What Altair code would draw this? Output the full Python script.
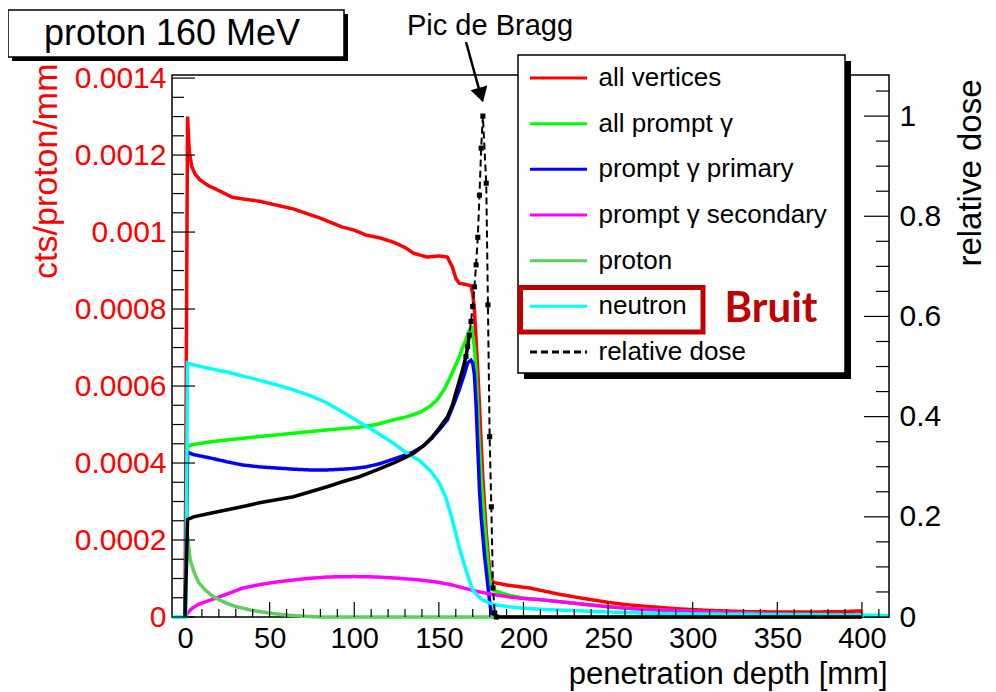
import altair as alt
import pandas as pd

FONT = "Liberation Sans"

# ---------------- data ----------------
series_names = ["all vertices", "all prompt γ", "prompt γ primary",
                "prompt γ secondary", "proton", "neutron", "relative dose"]
series_colors = ["#ff0000", "#00ff00", "#0000ff", "#ff00ff", "#5ccf5c", "#00ffff", "#000000"]
series_dashes = [[1, 0], [1, 0], [1, 0], [1, 0], [1, 0], [1, 0], [7, 4]]

depth_red = [0, 1.5, 2.5, 4, 6, 9, 14, 19, 28, 36, 44, 54, 64, 72, 80, 93, 100, 107, 115, 123,
             130, 135, 143, 150, 155, 158, 160, 162, 166, 169, 170, 171, 172, 173, 174, 175, 176,
             177, 178, 179, 180, 181, 182, 190, 204, 220, 233, 250, 263, 280, 292, 310, 331, 350,
             371, 390, 399, 400.5]
val_red = [0, 0.0013, 0.00121, 0.00117, 0.00115, 0.001135, 0.00112, 0.00111, 0.00109, 0.001085,
           0.00108, 0.00107, 0.00106, 0.001048, 0.001036, 0.001013, 0.001005, 0.000992, 0.000985,
           0.000974, 0.00096, 0.000945, 0.000935, 0.000938, 0.000935, 0.000909, 0.00088, 0.000867,
           0.000864, 0.00086, 0.00084, 0.0008, 0.00072, 0.00064, 0.00055, 0.00045, 0.00036,
           0.00029, 0.00022, 0.00017, 0.00012, 0.0001, 0.00009, 0.000083, 0.000075, 0.00006,
           0.00005, 0.000038, 0.000031, 0.000025, 0.000021, 0.000017, 0.000014, 0.000013,
           0.000013, 0.000014, 0.000016, 0]

depth_green = [0, 1.5, 5, 15, 25, 40, 54, 70, 84, 103, 113, 123, 131, 139, 145, 149, 153, 156, 159,
               162, 164, 166, 168, 169.5, 171, 172, 173, 174, 175, 176, 177, 178, 179, 180, 181, 182,
               190, 200, 210, 223, 240, 252, 270, 292, 310, 331, 350, 370, 390, 400]
val_green = [0, 0.000444, 0.000448, 0.000455, 0.00046, 0.000467, 0.000473, 0.00048, 0.000486,
             0.000493, 0.0005, 0.000512, 0.00052, 0.000532, 0.000548, 0.000564, 0.00059, 0.000616,
             0.000645, 0.000675, 0.0007, 0.00072, 0.000745, 0.00075, 0.0007, 0.00064, 0.00054,
             0.00044, 0.00036, 0.0003, 0.00024, 0.00019, 0.00014, 0.0001, 0.00008, 0.00007,
             0.000058, 0.000049, 0.000045, 0.000039, 0.000031, 0.000026, 0.00002, 0.000016,
             0.000013, 0.00001, 0.000008, 0.000007, 0.000006, 0.000005]

depth_blue = [0, 1.5, 5, 15, 25, 34, 44, 54, 64, 74, 84, 93, 100, 107, 115, 123, 129, 135, 141, 146,
              150, 155, 159, 162, 165, 167, 169, 170, 171, 172, 173, 174, 175, 176, 177, 178, 179,
              180, 181, 182, 183]
val_blue = [0, 0.000428, 0.000422, 0.000413, 0.000403, 0.000395, 0.00039, 0.000387, 0.000384,
            0.000382, 0.000382, 0.000384, 0.000386, 0.00039, 0.000398, 0.00041, 0.000419, 0.000429,
            0.000445, 0.000465, 0.000485, 0.000512, 0.000555, 0.00059, 0.00063, 0.00066, 0.000667,
            0.00066, 0.00063, 0.00055, 0.00044, 0.00033, 0.00026, 0.00021, 0.00016, 0.00012,
            0.00008, 0.00004, 0.00001, 0, 0]

depth_magenta = [0, 1.5, 4, 8, 15, 25, 34, 44, 54, 70, 84, 100, 113, 125, 139, 150, 158, 165, 172,
                 180, 192, 200, 210, 223, 240, 252, 270, 292, 310, 331, 350, 370, 390, 400]
val_magenta = [0, 0.00001, 0.000022, 0.000033, 0.000044, 0.00006, 0.000075, 0.000084, 0.000091,
               0.000099, 0.000104, 0.000105, 0.000104, 0.000101, 0.000096, 0.00009, 0.000083,
               0.000075, 0.000067, 0.00006, 0.000052, 0.000048, 0.000045, 0.000039, 0.000031,
               0.000026, 0.00002, 0.000016, 0.000013, 0.00001, 0.000008, 0.000007, 0.000006,
               0.000005]

depth_proton = [0, 1.5, 3, 5, 8, 12, 16, 20, 25, 30, 40, 50, 60, 70, 80, 400]
val_proton = [0, 0.00021, 0.00015, 0.00012, 0.00009, 0.00007, 0.000055, 0.000045, 0.000035,
              0.000027, 0.000017, 0.00001, 0.000005, 0.000002, 0, 0]

depth_neutron = [-7.5, 0.5, 1.5, 5, 15, 25, 35, 44, 54, 64, 74, 84, 93, 103, 113, 123, 131, 139,
                 145, 150, 154, 158, 162, 166, 170, 173, 176, 180, 184, 196, 210, 233, 250, 272,
                 300, 331, 360, 400, 415.5]
val_neutron = [0, 0, 0.00066, 0.000655, 0.000645, 0.000636, 0.000625, 0.000615, 0.000603, 0.00059,
               0.000575, 0.000556, 0.000533, 0.000506, 0.00048, 0.000452, 0.000426, 0.000405,
               0.00038, 0.00035, 0.000312, 0.000252, 0.000182, 0.000122, 0.00007, 0.000055,
               0.000044, 0.000036, 0.000031, 0.000024, 0.00002, 0.000016, 0.000013, 0.00001,
               0.000008, 0.000007, 0.000006, 0.000005, 0.000004]

depth_dose = [0, 1.5, 5, 15, 25, 35, 44, 54, 64, 74, 84, 93, 103, 113, 123, 130, 135, 141, 146, 150,
              155, 158, 160, 162, 164, 166, 167, 168, 169, 170, 171, 172, 173, 174, 175, 176, 178,
              179, 180, 181, 182, 183, 184, 400]
val_dose = [0, 0.195, 0.2, 0.207, 0.214, 0.221, 0.228, 0.234, 0.24, 0.25, 0.26, 0.27, 0.28, 0.293,
            0.307, 0.318, 0.327, 0.342, 0.359, 0.376, 0.399, 0.423, 0.447, 0.47, 0.493, 0.52, 0.54,
            0.563, 0.59, 0.62, 0.659, 0.703, 0.758, 0.842, 0.936, 1.0, 0.866, 0.623, 0.36, 0.22,
            0.058, 0.008, 0, 0]

x_major = [0, 50, 100, 150, 200, 250, 300, 350, 400]
x_minor = [10, 20, 30, 40, 60, 70, 80, 90, 110, 120, 130, 140, 160, 170, 180, 190, 210, 220, 230,
           240, 260, 270, 280, 290, 310, 320, 330, 340, 360, 370, 380, 390, 410]
left_major = [0, 0.0002, 0.0004, 0.0006, 0.0008, 0.001, 0.0012, 0.0014]
left_minor = [0.00005, 0.0001, 0.00015, 0.00025, 0.0003, 0.00035, 0.00045, 0.0005, 0.00055,
              0.00065, 0.0007, 0.00075, 0.00085, 0.0009, 0.00095, 0.00105, 0.0011, 0.00115,
              0.00125, 0.0013, 0.00135]
right_major = [0, 0.2, 0.4, 0.6, 0.8, 1.0]
right_minor = [0.05, 0.1, 0.15, 0.25, 0.3, 0.35, 0.45, 0.5, 0.55, 0.65, 0.7, 0.75, 0.85, 0.9,
               0.95, 1.05]

# ---------------- tables ----------------
count_series = [
    ("all vertices", depth_red, val_red),
    ("all prompt γ", depth_green, val_green),
    ("prompt γ primary", depth_blue, val_blue),
    ("prompt γ secondary", depth_magenta, val_magenta),
    ("proton", depth_proton, val_proton),
    ("neutron", depth_neutron, val_neutron),
]
rows = []
for name, xs, vs in count_series:
    for xv, vv in zip(xs, vs):
        rows.append({"series": name, "x": xv, "v": vv})
counts_df = pd.DataFrame(rows)
dose_df = pd.DataFrame({"series": "relative dose", "x": depth_dose, "d": val_dose})

W, H = 717, 542

# ---------------- scales / axes ----------------
x_axis = alt.Axis(values=x_major, format="d", labelFont=FONT, labelFontSize=29, labelColor="black",
                  labelPadding=7, ticks=False, tickSize=0, domain=False, grid=False,
                  labelFlush=False, labelOverlap=False,
                  title="penetration depth [mm]", titleFont=FONT, titleFontSize=31,
                  titleFontWeight="normal", titleColor="black", titleAlign="right",
                  titleBaseline="alphabetic", titleX=715, titleY=66)
left_axis = alt.Axis(values=left_major, format="~g", labelFont=FONT, labelFontSize=30,
                     labelColor="#ff0000", labelPadding=6, ticks=False, tickSize=0, domain=False,
                     grid=False, labelFlush=False, labelOverlap=False,
                     title="cts/proton/mm", titleFont=FONT, titleFontSize=34,
                     titleFontWeight="normal", titleColor="#ff0000", titleAngle=270,
                     titleAlign="right", titleBaseline="middle", titleX=-126, titleY=-12)
right_axis = alt.Axis(orient="right", values=right_major, format="~g", labelFont=FONT,
                      labelFontSize=30, labelColor="black", labelPadding=10, ticks=False,
                      tickSize=0, domain=False, grid=False, labelFlush=False, labelOverlap=False,
                      title="relative dose", titleFont=FONT, titleFontSize=33,
                      titleFontWeight="normal", titleColor="black", titleAngle=270,
                      titleAlign="right", titleBaseline="alphabetic", titleX=91, titleY=4)

x_enc = alt.X("x:Q", scale=alt.Scale(domain=[-7.7, 416], nice=False, zero=False), axis=x_axis)
y_left = alt.Y("v:Q", scale=alt.Scale(domain=[0, 0.001408], nice=False, zero=False), axis=left_axis)
y_right = alt.Y("d:Q", scale=alt.Scale(domain=[0, 1.082], nice=False, zero=False), axis=right_axis)

legend_def = alt.Legend(orient="none", legendX=356.5, legendY=-12, direction="vertical", columns=1,
                        title=None, symbolType="stroke", symbolSize=3249, symbolStrokeWidth=3,
                        labelFont=FONT, labelFontSize=26, labelColor="black", labelOffset=10,
                        clipHeight=30, rowPadding=15.67, padding=0, labelLimit=500)
color_enc = alt.Color("series:N", scale=alt.Scale(domain=series_names, range=series_colors),
                      legend=legend_def)
dash_enc = alt.StrokeDash("series:N", scale=alt.Scale(domain=series_names, range=series_dashes),
                          legend=legend_def)

# ---------------- count curves (left axis) ----------------
left_layers = []
for name, _, _ in count_series:
    left_layers.append(
        alt.Chart(counts_df).transform_filter(alt.datum.series == name)
        .mark_line(strokeWidth=3.5)
        .encode(x=x_enc, y=y_left, color=color_enc, strokeDash=dash_enc)
    )

def hrule_ticks(vals, col, yenc, x1, x2):
    return alt.Chart(pd.DataFrame({col: vals})).mark_rule(color="black", strokeWidth=1.2).encode(
        y=yenc, x=alt.value(x1), x2=alt.value(x2))

xt_major = alt.Chart(pd.DataFrame({"x": x_major})).mark_rule(color="black", strokeWidth=1.2).encode(
    x=x_enc, y=alt.value(H), y2=alt.value(H - 15))
xt_minor = alt.Chart(pd.DataFrame({"x": x_minor})).mark_rule(color="black", strokeWidth=1.2).encode(
    x=x_enc, y=alt.value(H), y2=alt.value(H - 8))

left_layers += [
    hrule_ticks(left_major, "v", y_left, 0, 23),
    hrule_ticks(left_minor, "v", y_left, 0, 12),
    xt_major, xt_minor,
]
left_group = alt.layer(*left_layers)

# ---------------- dose curve (right axis) ----------------
dose_solid_a = alt.Chart(dose_df).transform_filter(alt.datum.x <= 168).mark_line(
    color="black", strokeWidth=3.5).encode(x=x_enc, y=y_right)
dose_solid_b = alt.Chart(dose_df).transform_filter(alt.datum.x >= 184).mark_line(
    color="black", strokeWidth=3.5).encode(x=x_enc, y=y_right)
dose_dashed = alt.Chart(dose_df).mark_line(strokeWidth=2).encode(
    x=x_enc, y=y_right, color=color_enc, strokeDash=dash_enc)
dose_pts = alt.Chart(dose_df).transform_filter((alt.datum.x >= 166) & (alt.datum.x <= 184)).mark_square(
    size=26, color="black", opacity=1).encode(x=x_enc, y=y_right)

right_group = alt.layer(
    dose_solid_a, dose_solid_b, dose_dashed, dose_pts,
    hrule_ticks(right_major, "d", y_right, W, W - 25),
    hrule_ticks(right_minor, "d", y_right, W, W - 13),
)

# ---------------- annotations ----------------
one = pd.DataFrame({"k": [0]})

def box(x1, x2, y1, y2, **kw):
    return alt.Chart(one).mark_rect(clip=False, **kw).encode(
        x=alt.value(x1), x2=alt.value(x2), y=alt.value(y1), y2=alt.value(y2))

def label(txt, xv, yv, **kw):
    return alt.Chart(one).mark_text(text=txt, clip=False, **kw).encode(x=alt.value(xv), y=alt.value(yv))

annot = alt.layer(
    box(-160, 176, -61, -14, color="black"),
    box(-164, 172, -65, -18, fill="white", stroke="black", strokeWidth=1.5),
    label("proton 160 MeV", 0, -41, font=FONT, fontSize=36, color="black", align="center",
          baseline="middle"),
    box(352, 679, -14, 304, color="black"),
    box(346, 673, -20, 298, fill="white", stroke="black", strokeWidth=1.5),
    box(348.5, 531, 212.5, 257, fillOpacity=0, stroke="#c00000", strokeWidth=5),
    label("Bruit", 599, 234, font="Lato", fontWeight="bold", fontSize=42, color="#c00000",
          align="center", baseline="middle"),
    label("Pic de Bragg", 318, -40, font=FONT, fontSize=29, color="black", align="center",
          baseline="alphabetic"),
    alt.Chart(one).mark_rule(color="black", strokeWidth=2.5, clip=False).encode(
        x=alt.value(294), y=alt.value(-33), x2=alt.value(307), y2=alt.value(14)),
    alt.Chart(one).mark_point(shape="triangle-down", filled=True, size=300, angle=344,
                              color="black", opacity=1, clip=False).encode(
        x=alt.value(309), y=alt.value(20)),
)

chart = alt.layer(left_group, right_group, annot).resolve_scale(y="independent").properties(
    width=W, height=H,
    autosize=alt.AutoSizeParams(type="none"),
    padding={"left": 164, "top": 67, "right": 99, "bottom": 80},
    background="white",
).configure_view(stroke="black", strokeWidth=1.5)

chart.save("out.html", embed_options={"renderer": "svg", "actions": False})
